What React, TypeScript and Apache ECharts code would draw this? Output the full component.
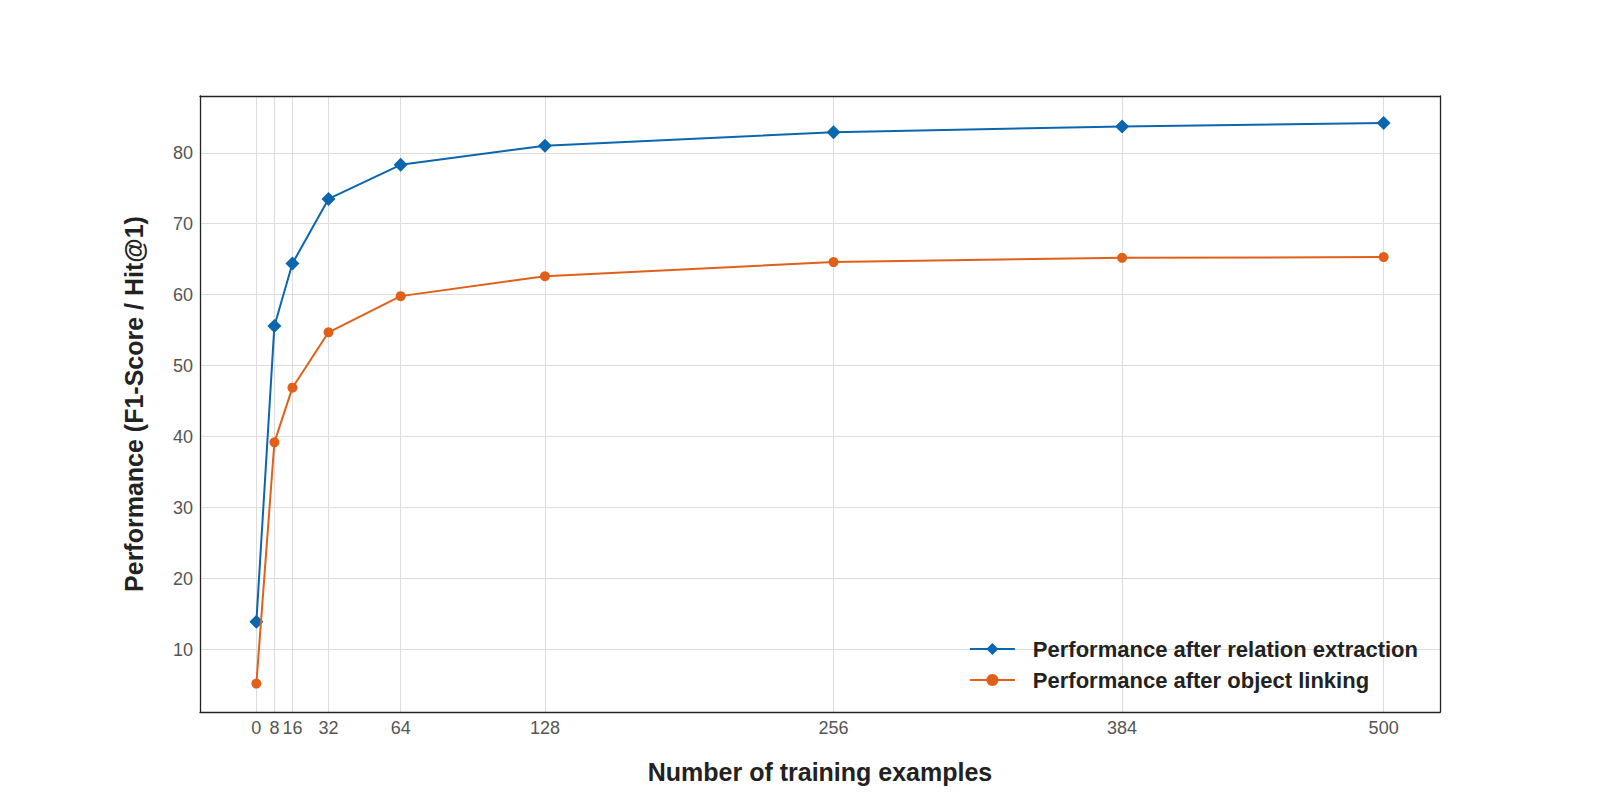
import React, { useEffect, useRef } from "react";
import * as echarts from "echarts";

const xValues = [0, 8, 16, 32, 64, 128, 256, 384, 500];
const relationExtraction = [13.9, 55.6, 64.4, 73.5, 78.3, 81.0, 82.9, 83.7, 84.2];
const objectLinking = [5.2, 39.2, 46.9, 54.7, 59.8, 62.6, 64.6, 65.2, 65.3];
const yTicks = [10, 20, 30, 40, 50, 60, 70, 80];
const seriesNames = ["Performance after relation extraction", "Performance after object linking"];

const FONT = "'Liberation Sans', Arial, Helvetica, sans-serif";

export default function App() {
  const ref = useRef<HTMLDivElement>(null);
  useEffect(() => {
    if (!ref.current) return;
    const chart = echarts.init(ref.current, null, { renderer: "svg" });
    const frame = { show: true, onZero: false, lineStyle: { color: "#222", width: 1.3 } };
    chart.setOption({
      animation: false,
      backgroundColor: "#fff",
      textStyle: { fontFamily: FONT },
      grid: { left: 200, right: 160, top: 96, bottom: 88, show: false },
      legend: {
        right: 177,
        top: 633,
        orient: "vertical",
        itemWidth: 45,
        itemHeight: 15,
        itemGap: 9,
        textStyle: {
          fontSize: 22,
          fontWeight: "bold",
          color: "#222",
          fontFamily: FONT,
          padding: [0, 0, 0, 13],
        },
        data: seriesNames,
      },
      xAxis: [
        {
          type: "value",
          min: -25,
          max: 525,
          name: "Number of training examples",
          nameLocation: "middle",
          nameGap: 47,
          nameTextStyle: { fontSize: 25, fontWeight: "bold", color: "#222", fontFamily: FONT },
          axisLine: frame,
          axisTick: { show: false, customValues: xValues },
          axisLabel: { customValues: xValues, fontSize: 18, color: "#555", margin: 7, fontFamily: FONT },
          splitLine: { show: true, lineStyle: { color: "#ddd", width: 1 } },
        },
        {
          type: "value",
          position: "top",
          min: -25,
          max: 525,
          axisLine: frame,
          axisTick: { show: false },
          axisLabel: { show: false },
          splitLine: { show: false },
        },
      ],
      yAxis: [
        {
          type: "value",
          min: 1.2,
          max: 88,
          name: "Performance (F1-Score / Hit@1)",
          nameLocation: "middle",
          nameGap: 54,
          nameTextStyle: { fontSize: 25, fontWeight: "bold", color: "#222", fontFamily: FONT },
          axisLine: frame,
          axisTick: { show: false, customValues: yTicks },
          axisLabel: { customValues: yTicks, fontSize: 18, color: "#555", margin: 7, fontFamily: FONT },
          splitLine: { show: true, lineStyle: { color: "#ddd", width: 1 } },
        },
        {
          type: "value",
          position: "right",
          min: 1.2,
          max: 88,
          axisLine: frame,
          axisTick: { show: false },
          axisLabel: { show: false },
          splitLine: { show: false },
        },
      ],
      series: [
        {
          name: seriesNames[0],
          type: "line",
          data: xValues.map((x, i) => [x, relationExtraction[i]]),
          symbol: "diamond",
          symbolSize: 14,
          lineStyle: { color: "#0b66b0", width: 2 },
          itemStyle: { color: "#0b66b0" },
          z: 3,
        },
        {
          name: seriesNames[1],
          type: "line",
          data: xValues.map((x, i) => [x, objectLinking[i]]),
          symbol: "circle",
          symbolSize: 10,
          lineStyle: { color: "#e0601a", width: 2 },
          itemStyle: { color: "#e0601a" },
          z: 4,
        },
      ],
    });
    return () => chart.dispose();
  }, []);
  return (
    <div
      ref={ref}
      style={{ position: "fixed", left: 0, top: 0, width: 1600, height: 800, background: "#fff" }}
    />
  );
}
